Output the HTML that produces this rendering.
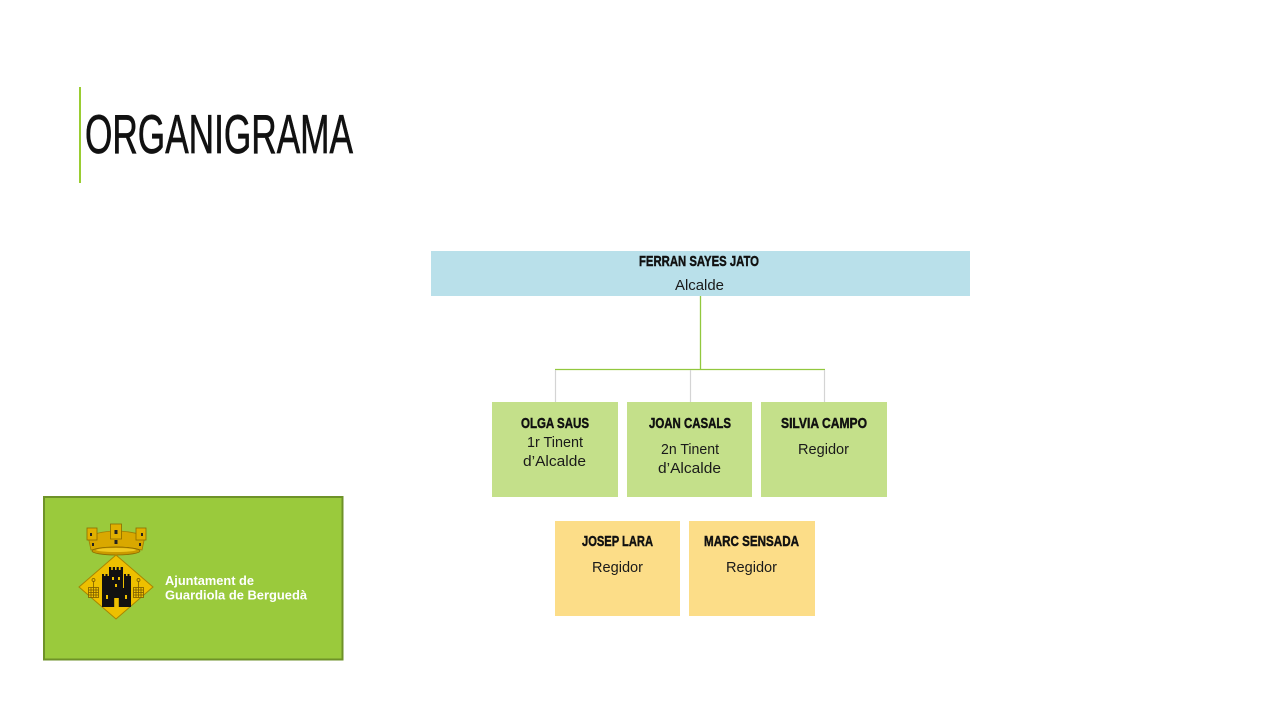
<!DOCTYPE html>
<html>
<head>
<meta charset="utf-8">
<style>
  html, body { margin:0; padding:0; background:#ffffff; }
  body { width:1280px; height:720px; overflow:hidden; }
  svg { display:block; }
  .title { font-family:"Liberation Sans", sans-serif; font-size:54.5px; fill:#111111; stroke:#111111; stroke-width:0.7px; }
  .nm { font-family:"Liberation Sans", sans-serif; font-weight:bold; font-size:14.7px; fill:#111111; stroke:#111111; stroke-width:0.45px; }
  .rl { font-family:"Liberation Sans", sans-serif; font-size:15px; fill:#1a1a1a; }
  .lg { font-family:"Liberation Sans", sans-serif; font-weight:bold; font-size:12.5px; fill:#ffffff; }
</style>
</head>
<body>
<svg width="1280" height="720" viewBox="0 0 1280 720" xmlns="http://www.w3.org/2000/svg">
  <rect x="0" y="0" width="1280" height="720" fill="#ffffff"/>

  <!-- Title -->
  <rect x="79" y="87" width="2" height="96" fill="#9acd32"/>
  <text class="title" x="85" y="153" textLength="268" lengthAdjust="spacingAndGlyphs">ORGANIGRAMA</text>

  <!-- Top box -->
  <rect x="431" y="251" width="539" height="45" fill="#b9e0ea"/>
  <text class="nm" x="639" y="266" textLength="120" lengthAdjust="spacingAndGlyphs">FERRAN SAYES JATO</text>
  <text class="rl" x="675" y="290" textLength="49" lengthAdjust="spacingAndGlyphs">Alcalde</text>

  <!-- Connectors -->
  <line x1="700.5" y1="296" x2="700.5" y2="370" stroke="#92c83e" stroke-width="1.3"/>
  <line x1="555" y1="369.5" x2="825" y2="369.5" stroke="#92c83e" stroke-width="1.3"/>
  <line x1="555.5" y1="370" x2="555.5" y2="402" stroke="#d4d4d4" stroke-width="1.2"/>
  <line x1="690.5" y1="370" x2="690.5" y2="402" stroke="#d4d4d4" stroke-width="1.2"/>
  <line x1="824.5" y1="370" x2="824.5" y2="402" stroke="#d4d4d4" stroke-width="1.2"/>

  <!-- Green boxes -->
  <rect x="492" y="402" width="126" height="95" fill="#c4e08a"/>
  <rect x="627" y="402" width="125" height="95" fill="#c4e08a"/>
  <rect x="761" y="402" width="126" height="95" fill="#c4e08a"/>

  <text class="nm" x="521" y="428" textLength="68" lengthAdjust="spacingAndGlyphs">OLGA SAUS</text>
  <text class="rl" x="527" y="447" textLength="56" lengthAdjust="spacingAndGlyphs">1r Tinent</text>
  <text class="rl" x="523" y="466" textLength="63" lengthAdjust="spacingAndGlyphs">d’Alcalde</text>

  <text class="nm" x="649" y="428" textLength="82" lengthAdjust="spacingAndGlyphs">JOAN CASALS</text>
  <text class="rl" x="661" y="454" textLength="58" lengthAdjust="spacingAndGlyphs">2n Tinent</text>
  <text class="rl" x="658" y="473" textLength="63" lengthAdjust="spacingAndGlyphs">d’Alcalde</text>

  <text class="nm" x="781" y="428" textLength="86" lengthAdjust="spacingAndGlyphs">SILVIA CAMPO</text>
  <text class="rl" x="798" y="454" textLength="51" lengthAdjust="spacingAndGlyphs">Regidor</text>

  <!-- Yellow boxes -->
  <rect x="555" y="521" width="125" height="95" fill="#fcdd88"/>
  <rect x="689" y="521" width="126" height="95" fill="#fcdd88"/>

  <text class="nm" x="582" y="546" textLength="71" lengthAdjust="spacingAndGlyphs">JOSEP LARA</text>
  <text class="rl" x="592" y="572" textLength="51" lengthAdjust="spacingAndGlyphs">Regidor</text>

  <text class="nm" x="704" y="546" textLength="95" lengthAdjust="spacingAndGlyphs">MARC SENSADA</text>
  <text class="rl" x="726" y="572" textLength="51" lengthAdjust="spacingAndGlyphs">Regidor</text>

  <!-- Logo -->
  <rect x="44" y="497" width="298.5" height="162.5" fill="#9aca3c" stroke="#6e9228" stroke-width="2"/>

  <!-- Crown -->
  <g>
    <path d="M88,536 Q116,526 145,536 L142,550 Q116,544 91,550 Z" fill="#d9a800" stroke="#a27c00" stroke-width="0.8"/>
    <rect x="87" y="528" width="10" height="12" fill="#e0b000" stroke="#8a6a00" stroke-width="0.8"/>
    <rect x="136" y="528" width="10" height="12" fill="#e0b000" stroke="#8a6a00" stroke-width="0.8"/>
    <rect x="110.5" y="524" width="11" height="15" fill="#e0b000" stroke="#8a6a00" stroke-width="0.8"/>
    <rect x="114.5" y="530" width="3" height="4" fill="#222"/>
    <rect x="114.5" y="540" width="3" height="4" fill="#222"/>
    <rect x="90" y="533" width="2" height="3" fill="#222"/>
    <rect x="141" y="533" width="2" height="3" fill="#222"/>
    <rect x="92" y="543" width="2" height="3" fill="#222"/>
    <rect x="139" y="543" width="2" height="3" fill="#222"/>
    <ellipse cx="116" cy="551" rx="24" ry="4" fill="#c99a00" stroke="#8a6a00" stroke-width="0.8"/>
    <ellipse cx="116" cy="550" rx="20" ry="2" fill="#f0c820"/>
  </g>

  <!-- Diamond shield -->
  <polygon points="116,555 153,587 116,619 79,587" fill="#eec000" stroke="#a88400" stroke-width="1"/>

  <!-- Castle -->
  <g fill="#111111">
    <rect x="102" y="588" width="29" height="19"/>
    <rect x="102" y="576" width="7" height="13"/>
    <rect x="124" y="576" width="7" height="13"/>
    <rect x="102" y="574" width="2" height="3"/>
    <rect x="105.5" y="574" width="2" height="3"/>
    <rect x="124" y="574" width="2" height="3"/>
    <rect x="127.5" y="574" width="2" height="3"/>
    <rect x="109" y="570" width="14" height="19"/>
    <rect x="109" y="567" width="2.2" height="4"/>
    <rect x="112.8" y="567" width="2.2" height="4"/>
    <rect x="116.6" y="567" width="2.2" height="4"/>
    <rect x="120.6" y="567" width="2.4" height="4"/>
  </g>
  <g fill="#eec000">
    <rect x="114.2" y="598" width="4.6" height="9"/>
    <rect x="106" y="595" width="2" height="4"/>
    <rect x="125" y="595" width="2" height="4"/>
    <rect x="112" y="577" width="2" height="3"/>
    <rect x="118" y="577" width="2" height="3"/>
    <rect x="115" y="584" width="2" height="3"/>
  </g>

  <!-- Grilles -->
  <g stroke="#7a5c00" stroke-width="0.8" fill="none">
    <rect x="88.5" y="587.5" width="10" height="10" fill="#f3c400"/>
    <line x1="91" y1="587.5" x2="91" y2="597.5"/>
    <line x1="93.5" y1="587.5" x2="93.5" y2="597.5"/>
    <line x1="96" y1="587.5" x2="96" y2="597.5"/>
    <line x1="88.5" y1="590" x2="98.5" y2="590"/>
    <line x1="88.5" y1="592.5" x2="98.5" y2="592.5"/>
    <line x1="88.5" y1="595" x2="98.5" y2="595"/>
    <line x1="93.5" y1="581" x2="93.5" y2="587.5"/>
    <circle cx="93.5" cy="580" r="1.5"/>

    <rect x="133.5" y="587.5" width="10" height="10" fill="#f3c400"/>
    <line x1="136" y1="587.5" x2="136" y2="597.5"/>
    <line x1="138.5" y1="587.5" x2="138.5" y2="597.5"/>
    <line x1="141" y1="587.5" x2="141" y2="597.5"/>
    <line x1="133.5" y1="590" x2="143.5" y2="590"/>
    <line x1="133.5" y1="592.5" x2="143.5" y2="592.5"/>
    <line x1="133.5" y1="595" x2="143.5" y2="595"/>
    <line x1="138.5" y1="581" x2="138.5" y2="587.5"/>
    <circle cx="138.5" cy="580" r="1.5"/>
  </g>

  <text class="lg" x="165" y="585" textLength="89" lengthAdjust="spacingAndGlyphs">Ajuntament de</text>
  <text class="lg" x="165" y="599.5" textLength="142" lengthAdjust="spacingAndGlyphs">Guardiola de Berguedà</text>
</svg>
</body>
</html>
